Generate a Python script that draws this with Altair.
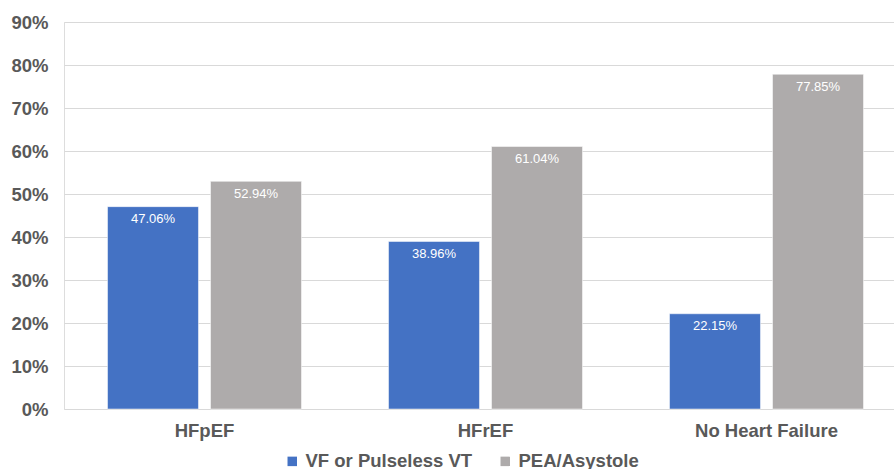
import altair as alt
import pandas as pd

categories = ["HFpEF", "HFrEF", "No Heart Failure"]
series = ["VF or Pulseless VT", "PEA/Asystole"]
vf_values = [0.4706, 0.3896, 0.2215]
pea_values = [0.5294, 0.6104, 0.7785]
y_ticks = [0, 0.1, 0.2, 0.3, 0.4, 0.5, 0.6, 0.7, 0.8, 0.9]

rows = []
for c, a, b in zip(categories, vf_values, pea_values):
    rows.append({"cat": c, "series": series[0], "value": a, "label": f"{a*100:.2f}%"})
    rows.append({"cat": c, "series": series[1], "value": b, "label": f"{b*100:.2f}%"})
df = pd.DataFrame(rows)

FONT = "Liberation Sans"
TXT = "#595959"

x = alt.X("cat:N", sort=categories, title=None,
          scale=alt.Scale(range=[0, 843], paddingInner=0, paddingOuter=0),
          axis=alt.Axis(labelAngle=0, ticks=False, tickExtra=False, domain=False,
                        grid=False, labelFont=FONT,
                        labelFontSize=18.5, labelFontWeight="bold", labelColor=TXT,
                        labelPadding=12))
xo = alt.XOffset("series:N", sort=series,
                 scale=alt.Scale(paddingInner=0.117, paddingOuter=0.4225))
y = alt.Y("value:Q", title=None,
          scale=alt.Scale(domain=[0, 0.9], nice=False),
          axis=alt.Axis(values=y_ticks, format=".0%", ticks=False, domain=False,
                        labelFont=FONT, labelFontSize=18.5, labelFontWeight="bold",
                        labelColor=TXT, labelPadding=16, gridColor="#d9d9d9",
                        gridWidth=1))
color = alt.Color("series:N", sort=series,
                  scale=alt.Scale(domain=series, range=["#4472C4", "#AEABAB"]),
                  legend=alt.Legend(title=None, orient="none", direction="horizontal",
                                    legendX=219, legendY=430, symbolType="square",
                                    symbolSize=90, symbolStrokeWidth=0,
                                    labelFont=FONT, labelFontSize=18.5,
                                    labelFontWeight="bold", labelColor=TXT,
                                    columnPadding=23, labelOffset=4, labelLimit=300))

bars = alt.Chart(df).mark_bar(stroke="white", strokeWidth=0.5).encode(
    x=x, xOffset=xo, y=y, color=color)
labels = alt.Chart(df).mark_text(color="white", font=FONT, fontSize=13,
                                 baseline="middle", dy=12.5).encode(
    x=x, xOffset=xo, y=y, text="label:N")

chart = (bars + labels).properties(
    width=830, height=387,
    autosize=alt.AutoSizeParams(type="none"),
    padding={"left": 64, "top": 22, "right": 0, "bottom": 60},
).configure_view(
    stroke="transparent", strokeWidth=0
).configure_axisBand(
    grid=False, tickExtra=False, domain=False, ticks=False
).configure(background="white")

chart.save("out.html", embed_options={"renderer": "svg", "actions": False})
